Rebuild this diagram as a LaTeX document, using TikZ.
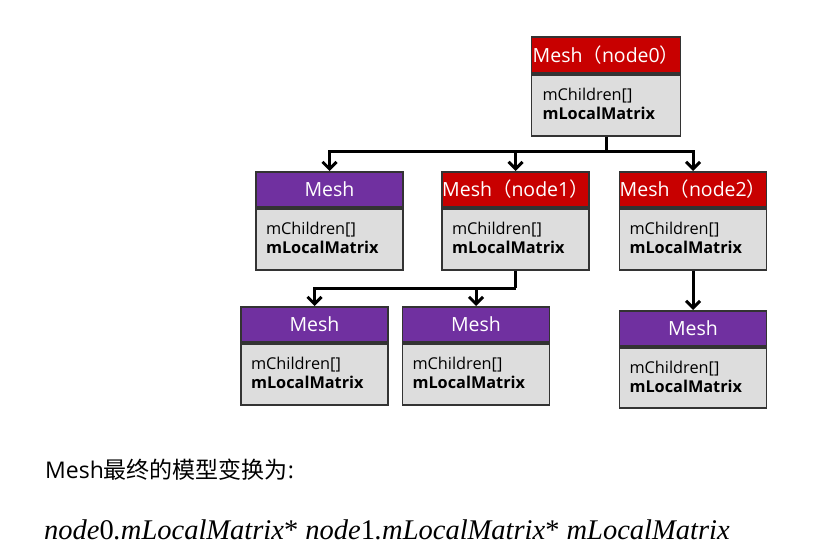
\documentclass[tikz,border=0pt]{standalone}
\usepackage{fontspec}
\setmainfont{Open Sans}
\newfontfamily\cjk{Noto Sans CJK SC}
\newfontfamily\tms{Liberation Serif}
\usetikzlibrary{arrows.meta,positioning}
\definecolor{hred}{HTML}{C80000}
\definecolor{hpurple}{HTML}{7030A0}
\definecolor{bgray}{HTML}{DDDDDD}
\definecolor{bord}{HTML}{333333}
\tikzset{
  hdr/.style={draw=bord,line width=1.8pt,text=white,minimum width=147pt,minimum height=35pt,inner sep=0pt,anchor=north,font=\fontsize{19.5}{21}\selectfont},
  redhdr/.style={hdr,fill=hred},
  purhdr/.style={hdr,fill=hpurple},
  bodybox/.style={draw=bord,line width=1.8pt,fill=bgray,minimum width=147pt,minimum height=61pt,text width=127pt,inner xsep=10pt,inner ysep=0pt,anchor=north,align=left,font=\fontsize{16.3}{19}\selectfont},
  conn/.style={line width=3pt,draw=black},
  arr/.style={conn,-{Straight Barb[length=7pt,width=14pt]}},
}
\newcommand{\bodytext}{\raisebox{2pt}{mChildren[]}\\\raisebox{2pt}{\textbf{mLocalMatrix}}}
\newcommand{\paren}[1]{Mesh{\cjk （}#1{\cjk ）}}
\begin{document}
\begin{tikzpicture}[x=1pt,y=-1pt]
\useasboundingbox[fill=white] (0,0) rectangle (813,553);
% boxes
\node[redhdr,minimum width=149pt,minimum height=36pt] (Ah) at (606,36) {\paren{node0}};
\node[bodybox,minimum width=149pt] (Ab) at (Ah.south) {\bodytext};
\node[purhdr] (Bh) at (329.5,171) {Mesh};
\node[bodybox] (Bb) at (Bh.south) {\bodytext};
\node[redhdr] (Ch) at (515.5,171) {\paren{node1}};
\node[bodybox] (Cb) at (Ch.south) {\bodytext};
\node[redhdr] (Dh) at (693,171) {\paren{node2}};
\node[bodybox] (Db) at (Dh.south) {\bodytext};
\node[purhdr] (Eh) at (314.5,306) {Mesh};
\node[bodybox] (Eb) at (Eh.south) {\bodytext};
\node[purhdr] (Fh) at (476,306) {Mesh};
\node[bodybox] (Fb) at (Fh.south) {\bodytext};
\node[purhdr] (Gh) at (693,310) {Mesh};
\node[bodybox,minimum height=60pt] (Gb) at (Gh.south) {\bodytext};
% connectors
\coordinate (j0) at (606,152);
\draw[conn] (Ab.south) -- (j0);
\draw[arr] (j0) -| (Bh.north);
\draw[arr] (j0) -| (Dh.north);
\draw[arr] (Ch.north |- j0) -- (Ch.north);
\coordinate (j1) at (515.5,288);
\draw[conn] (Cb.south) -- (j1);
\draw[arr] (j1) -| (Eh.north);
\draw[arr] (Fh.north |- j1) -- (Fh.north);
\draw[arr] (Db.south) -- (Gh.north);
% texts
\node[anchor=west,inner sep=0pt,font=\fontsize{23}{26}\selectfont] (t1) at (45,470) {Mesh{\cjk 最终的模型变换为}:};
\node[anchor=west,inner sep=0pt,font=\tms\fontsize{28.5}{30}\selectfont] (t2) at (44,530) {\textit{node}0\textit{.mLocalMatrix}* \textit{node}1\textit{.mLocalMatrix}* \textit{mLocalMatrix}};
\end{tikzpicture}
\end{document}
